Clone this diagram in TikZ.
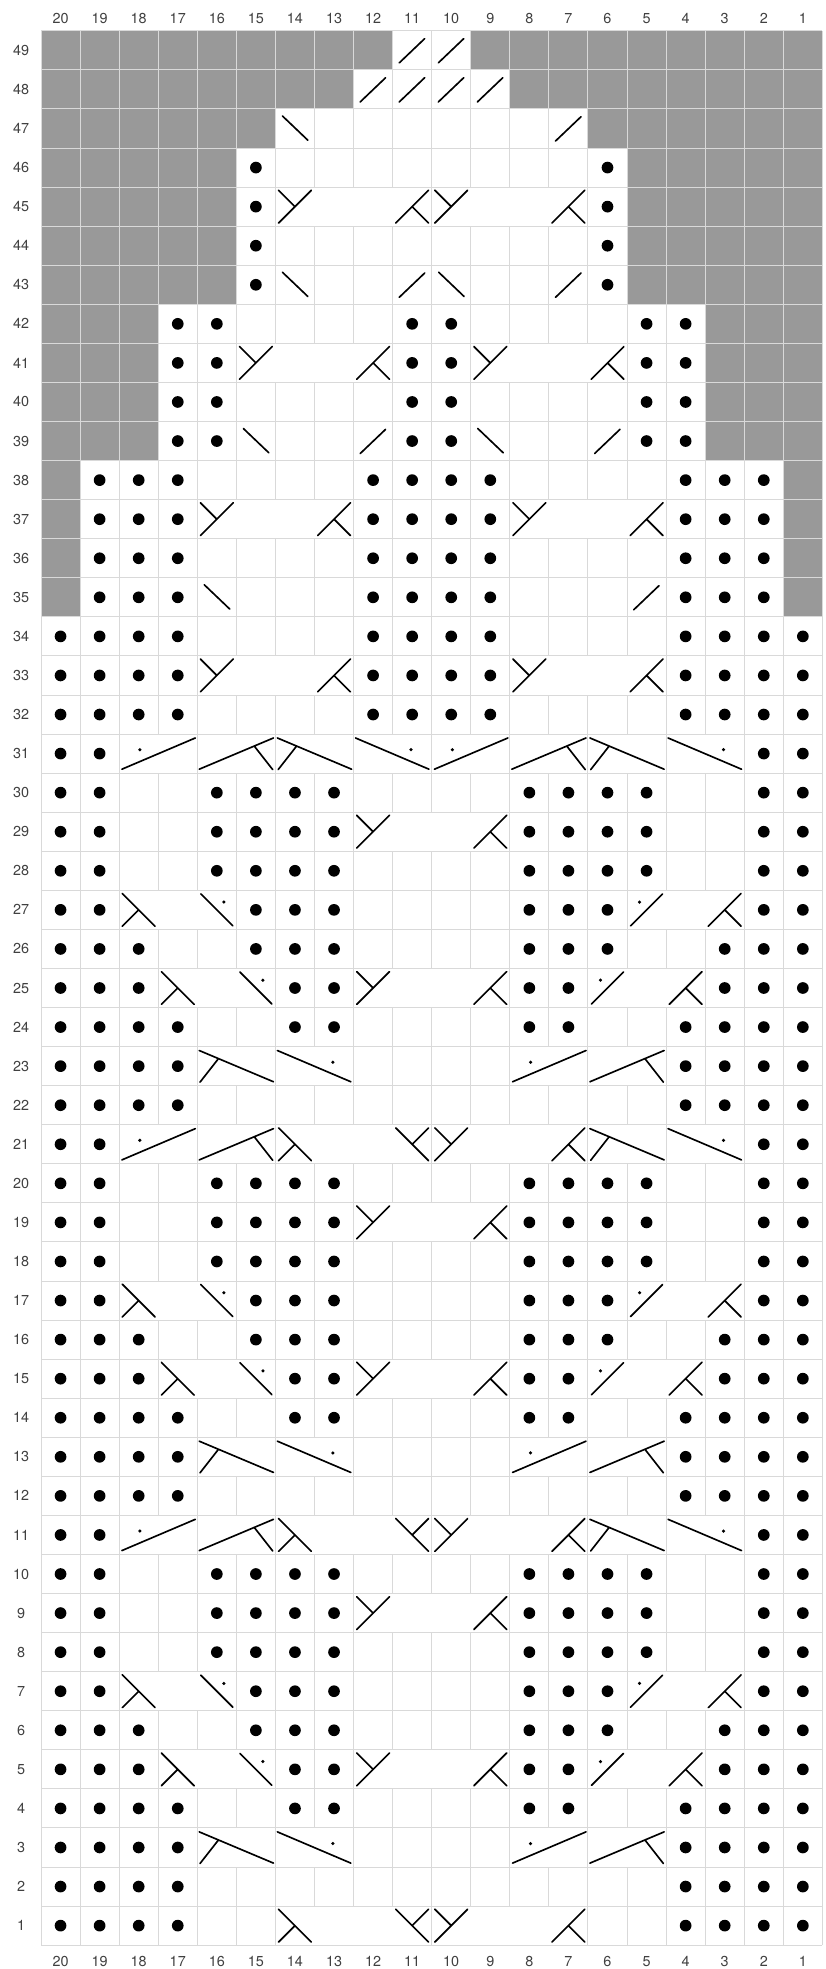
\documentclass[tikz,border=0pt]{standalone}
\usepackage{fontspec}
\setmainfont{TeX Gyre Heros}

\begin{document}
\begin{tikzpicture}[
    font=\fontsize{10.5}{12}\selectfont,
    % --- Grid ---
    grid line/.style={draw=black!15, line width=0.7pt},
    void cell/.style={fill=black!40},
    block cell/.style={fill=white, draw=black!15, line width=0.7pt},
    % --- Labels ---
    num label/.style={text=black!75, inner sep=1pt},
    % --- Stitch symbols ---
    stitch/.style={line width=1.2pt, line cap=round},
    purl/.pic={\fill (0.5,0.5) circle (0.15);},
    rdec/.pic={\draw[stitch] (0.17,0.18) -- (0.82,0.8);},
    ldec/.pic={\draw[stitch] (0.18,0.82) -- (0.83,0.2);},
    rdec p/.pic={
        \draw[stitch] (0.09,0.09) -- (0.91,0.91);
        \fill (0.32,0.7) circle (0.045);
    },
    ldec p/.pic={
        \draw[stitch] (0.09,0.91) -- (0.91,0.09);
        \fill (0.68,0.7) circle (0.045);
    },
    fork ul/.pic={\draw[stitch] (0.08,0.08) -- (0.92,0.92) (0.5,0.5) -- (0.08,0.92);},
    fork dr/.pic={\draw[stitch] (0.08,0.08) -- (0.92,0.92) (0.5,0.5) -- (0.92,0.08);},
    fork dl/.pic={\draw[stitch] (0.08,0.92) -- (0.92,0.08) (0.5,0.5) -- (0.08,0.08);},
    fork ur/.pic={\draw[stitch] (0.08,0.92) -- (0.92,0.08) (0.5,0.5) -- (0.92,0.92);},
    % --- Two-stitch crossings ---
    cable pl/.pic={
        \draw[stitch] (0.07,0.1) -- (1.95,0.9);
        \fill (0.53,0.6) circle (0.045);
    },
    cable tr/.pic={\draw[stitch] (0.05,0.1) -- (1.95,0.9) (1.46,0.69) -- (1.93,0.09);},
    cable tl/.pic={\draw[stitch] (0.05,0.9) -- (1.95,0.1) (0.54,0.69) -- (0.07,0.09);},
    cable pr/.pic={
        \draw[stitch] (0.05,0.9) -- (1.93,0.1);
        \fill (1.47,0.6) circle (0.045);
    }
]
    \useasboundingbox (-1.05,-0.61) rectangle (20.07,49.79);

    % =========================================
    % 1. CHART GRID
    % =========================================

    % No-stitch areas
    \foreach \x/\y/\X/\Y in {0/48/9/49, 11/48/20/49, 0/47/8/48, 12/47/20/48,
        0/46/6/47, 14/46/20/47, 0/42/5/46, 15/42/20/46,
        0/38/3/42, 17/38/20/42, 0/34/1/38, 19/34/20/38}
        \fill[void cell] (\x,\y) rectangle (\X,\Y);

    \draw[grid line] (0,0) grid (20,49);

    % Merged cells (column left/column right/row)
    \foreach \a/\b/\r in {14/11/45, 10/7/45, 15/12/41, 9/6/41,
        16/13/37, 8/5/37, 16/13/33, 8/5/33,
        18/17/31, 16/15/31, 14/13/31, 12/11/31, 10/9/31, 8/7/31, 6/5/31, 4/3/31,
        12/9/29, 12/9/19, 12/9/9,
        18/16/27, 5/3/27, 18/16/17, 5/3/17, 18/16/7, 5/3/7,
        17/15/25, 12/9/25, 6/4/25, 17/15/15, 12/9/15, 6/4/15, 17/15/5, 12/9/5, 6/4/5,
        16/15/23, 14/13/23, 8/7/23, 6/5/23, 16/15/13, 14/13/13, 8/7/13, 6/5/13,
        16/15/3, 14/13/3, 8/7/3, 6/5/3,
        18/17/21, 16/15/21, 14/11/21, 10/7/21, 6/5/21, 4/3/21,
        18/17/11, 16/15/11, 14/11/11, 10/7/11, 6/5/11, 4/3/11,
        14/11/1, 10/7/1}
        \draw[block cell] ({20-\a},{\r-1}) rectangle ({21-\b},\r);

    % =========================================
    % 2. STITCHES
    % =========================================

    % Purl stitches (rows/columns)
    \foreach \rows/\cols in {
        {46,45,44,43}/{15,6},
        {42,41,40,39}/{17,16,11,10,5,4},
        {38,37,36,35}/{19,18,17,12,11,10,9,4,3,2},
        {34,33,32}/{20,19,18,17,12,11,10,9,4,3,2,1},
        {31,21,11}/{20,19,2,1},
        {30,29,28,20,19,18,10,9,8}/{20,19,16,15,14,13,8,7,6,5,2,1},
        {27,17,7}/{20,19,15,14,13,8,7,6,2,1},
        {26,16,6}/{20,19,18,15,14,13,8,7,6,3,2,1},
        {25,15,5}/{20,19,18,14,13,8,7,3,2,1},
        {24,14,4}/{20,19,18,17,14,13,8,7,4,3,2,1},
        {23,22,13,12,3,2,1}/{20,19,18,17,4,3,2,1}}
        \foreach \r in \rows
            \foreach \c in \cols
                \pic at ({20-\c},{\r-1}) {purl};

    % Decreases
    \foreach \r/\c in {49/11, 49/10, 48/12, 48/11, 48/10, 48/9, 47/7,
        43/11, 43/7, 39/12, 39/6, 35/5}
        \pic at ({20-\c},{\r-1}) {rdec};
    \foreach \r/\c in {47/14, 43/14, 43/10, 39/15, 39/9, 35/16}
        \pic at ({20-\c},{\r-1}) {ldec};
    \foreach \r/\c in {27/5, 25/6, 17/5, 15/6, 7/5, 5/6}
        \pic at ({20-\c},{\r-1}) {rdec p};
    \foreach \r/\c in {27/16, 25/15, 17/16, 15/15, 7/16, 5/15}
        \pic at ({20-\c},{\r-1}) {ldec p};

    % Forked stitches
    \foreach \r/\c in {45/14, 45/10, 41/15, 41/9, 37/16, 37/8, 33/16, 33/8,
        29/12, 25/12, 21/10, 19/12, 15/12, 11/10, 9/12, 5/12, 1/10}
        \pic at ({20-\c},{\r-1}) {fork ul};
    \foreach \r/\c in {45/11, 45/7, 41/12, 41/6, 37/13, 37/5, 33/13, 33/5,
        29/9, 27/3, 25/9, 25/4, 21/7, 19/9, 17/3, 15/9, 15/4, 11/7,
        9/9, 7/3, 5/9, 5/4, 1/7}
        \pic at ({20-\c},{\r-1}) {fork dr};
    \foreach \r/\c in {27/18, 25/17, 21/14, 17/18, 15/17, 11/14, 7/18, 5/17, 1/14}
        \pic at ({20-\c},{\r-1}) {fork dl};
    \foreach \r/\c in {21/11, 11/11, 1/11}
        \pic at ({20-\c},{\r-1}) {fork ur};

    % Crossings (left column of pair)
    \foreach \r/\c in {31/18, 31/10, 23/8, 21/18, 13/8, 11/18, 3/8}
        \pic at ({20-\c},{\r-1}) {cable pl};
    \foreach \r/\c in {31/16, 31/8, 23/6, 21/16, 13/6, 11/16, 3/6}
        \pic at ({20-\c},{\r-1}) {cable tr};
    \foreach \r/\c in {31/14, 31/6, 23/16, 21/6, 13/16, 11/6, 3/16}
        \pic at ({20-\c},{\r-1}) {cable tl};
    \foreach \r/\c in {31/12, 31/4, 23/14, 21/4, 13/14, 11/4, 3/14}
        \pic at ({20-\c},{\r-1}) {cable pr};

    % =========================================
    % 3. NUMBERING
    % =========================================
    \foreach \c in {1,...,20} {
        \node[num label] (top\c) at ({20.5-\c},49.32) {\c};
        \node[num label] (bot\c) at ({20.5-\c},-0.41) {\c};
    }
    \foreach \r in {1,...,49}
        \node[num label] (row\r) at (-0.51,{\r-0.5}) {\r};

\end{tikzpicture}
\end{document}
